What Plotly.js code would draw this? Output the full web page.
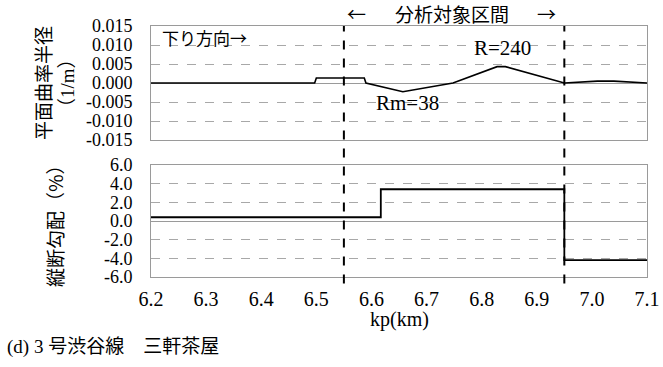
<!DOCTYPE html>
<html>
<head>
<meta charset="utf-8">
<script src="https://cdn.plot.ly/plotly-3.0.1.min.js"></script>
<style>
  html, body { margin: 0; padding: 0; background: #fff; }
  #chart { width: 663px; height: 367px; }
</style>
</head>
<body>
<div id="chart"></div>
<script>
// Plan curvature (1/m) along the line
const kpCurve = [6.2, 6.497, 6.5, 6.587, 6.59, 6.657, 6.748, 6.828, 6.843, 6.95, 7.01, 7.04, 7.1];
const curvature = [0, 0, 0.0013, 0.0013, 0, -0.0023, 0, 0.0043, 0.0043, 0, 0.0005, 0.0005, 0];

// Longitudinal gradient (%), held constant until the next change point
const kpGrade = [6.2, 6.617, 6.95, 7.1];
const grade = [0.4, 3.4, -4.2, -4.2];

// Boundaries of the analysed section (km)
const sectionBounds = [6.55, 6.95];

// Tick values and labels
const kpTicks = [6.2, 6.3, 6.4, 6.5, 6.6, 6.7, 6.8, 6.9, 7.0, 7.1];
const kpLabels = ["6.2", "6.3", "6.4", "6.5", "6.6", "6.7", "6.8", "6.9", "7.0", "7.1"];
const curveTicks = [0.015, 0.010, 0.005, 0, -0.005, -0.010, -0.015];
const curveLabels = ["0.015", "0.010", "0.005", "0.000", "-0.005", "-0.010", "-0.015"];
const gradeTicks = [6, 4, 2, 0, -2, -4, -6];
const gradeLabels = ["6.0", "4.0", "2.0", "0.0", "-2.0", "-4.0", "-6.0"];

const SERIF = 'Times New Roman, Liberation Serif, serif';
const JP = 'Noto Sans CJK JP';
const MIXED = 'Times New Roman, Liberation Serif, Noto Sans CJK JP';

const traces = [
  {
    x: kpCurve, y: curvature, xaxis: 'x2', yaxis: 'y2',
    mode: 'lines', line: { color: '#000', width: 1.6 },
    hoverinfo: 'skip', showlegend: false
  },
  {
    x: kpGrade, y: grade, xaxis: 'x', yaxis: 'y',
    mode: 'lines', line: { color: '#000', width: 1.8, shape: 'hv' },
    hoverinfo: 'skip', showlegend: false
  }
];

const frame = {
  showline: true, mirror: true, linecolor: '#9a9a9a', linewidth: 1
};

const layout = {
  width: 663, height: 367,
  margin: { l: 151, r: 16, t: 26, b: 90 },
  paper_bgcolor: '#fff', plot_bgcolor: '#fff',
  font: { family: SERIF, color: '#000', size: 18 },
  showlegend: false,
  xaxis: Object.assign({
    domain: [0, 1], anchor: 'y', range: [6.2, 7.1],
    tickvals: kpTicks, ticktext: kpLabels,
    ticks: 'outside', ticklen: 4, tickcolor: 'rgba(0,0,0,0)',
    showgrid: false, zeroline: false,
    tickfont: { family: SERIF, size: 20, color: '#000' }
  }, frame),
  yaxis: Object.assign({
    domain: [0, 0.4462], anchor: 'x', range: [-6, 6],
    tickvals: gradeTicks, ticktext: gradeLabels,
    ticks: 'outside', ticklen: 14, tickcolor: 'rgba(0,0,0,0)',
    showgrid: true, gridcolor: '#a8a8a8', griddash: 'dash', gridwidth: 1,
    zeroline: true, zerolinecolor: '#9a9a9a', zerolinewidth: 1,
    tickfont: { family: SERIF, size: 18, color: '#000' }
  }, frame),
  xaxis2: Object.assign({
    domain: [0, 1], anchor: 'y2', range: [6.2, 7.1],
    showticklabels: false, ticks: '', showgrid: false, zeroline: false
  }, frame),
  yaxis2: Object.assign({
    domain: [0.5458, 1], anchor: 'x2', range: [-0.015, 0.015],
    tickvals: curveTicks, ticktext: curveLabels,
    ticks: 'outside', ticklen: 14, tickcolor: 'rgba(0,0,0,0)',
    showgrid: true, gridcolor: '#a8a8a8', griddash: 'dash', gridwidth: 1,
    zeroline: true, zerolinecolor: '#9a9a9a', zerolinewidth: 1,
    tickfont: { family: SERIF, size: 18, color: '#000' }
  }, frame),
  shapes: sectionBounds.map(function (kp) {
    return {
      type: 'line', xref: 'x', yref: 'paper',
      x0: kp, x1: kp, y0: -0.026, y1: 1,
      line: { color: '#000', width: 2, dash: 'dash' }, layer: 'above'
    };
  }),
  annotations: [
    // analysed section heading
    { text: '←', xref: 'paper', yref: 'paper', x: 0.415, y: 1.048,
      xanchor: 'center', yanchor: 'middle', showarrow: false,
      font: { family: JP, size: 19 } },
    { text: '分析対象区間', xref: 'paper', yref: 'paper', x: 0.607, y: 1.048,
      xanchor: 'center', yanchor: 'middle', showarrow: false,
      font: { family: JP, size: 19 } },
    { text: '→', xref: 'paper', yref: 'paper', x: 0.798, y: 1.048,
      xanchor: 'center', yanchor: 'middle', showarrow: false,
      font: { family: JP, size: 19 } },
    // in-plot labels
    { text: '下り方向→', xref: 'x2', yref: 'y2', x: 6.216, y: 0.0121,
      xanchor: 'left', yanchor: 'middle', showarrow: false,
      font: { family: JP, size: 17 } },
    { text: 'R=240', xref: 'x2', yref: 'y2', x: 6.837, y: 0.0092,
      xanchor: 'center', yanchor: 'middle', showarrow: false,
      font: { family: SERIF, size: 21 } },
    { text: 'Rm=38', xref: 'x2', yref: 'y2', x: 6.665, y: -0.00526,
      xanchor: 'center', yanchor: 'middle', showarrow: false,
      font: { family: SERIF, size: 21 } },
    // axis titles
    { text: '平面曲率半径', xref: 'paper', yref: 'paper', x: -0.2177, y: 0.773,
      xanchor: 'center', yanchor: 'middle', textangle: -90, showarrow: false,
      font: { family: JP, size: 19 } },
    { text: '（1/m）', xref: 'paper', yref: 'paper', x: -0.1673, y: 0.773,
      xanchor: 'center', yanchor: 'middle', textangle: -90, showarrow: false,
      font: { family: MIXED, size: 19 } },
    { text: '縦断勾配（%）', xref: 'paper', yref: 'paper', x: -0.1956, y: 0.223,
      xanchor: 'center', yanchor: 'middle', textangle: -90, showarrow: false,
      font: { family: JP, size: 19 } },
    { text: 'kp(km)', xref: 'paper', yref: 'paper', x: 0.5, y: -0.168,
      xanchor: 'center', yanchor: 'middle', showarrow: false,
      font: { family: SERIF, size: 20 } },
    // caption
    { text: '(d) 3 号渋谷線　三軒茶屋', xref: 'paper', yref: 'paper', x: -0.294, y: -0.279,
      xanchor: 'left', yanchor: 'middle', showarrow: false,
      font: { family: MIXED, size: 19 } }
  ]
};

Plotly.newPlot('chart', traces, layout, { staticPlot: true, displayModeBar: false });
</script>
</body>
</html>
